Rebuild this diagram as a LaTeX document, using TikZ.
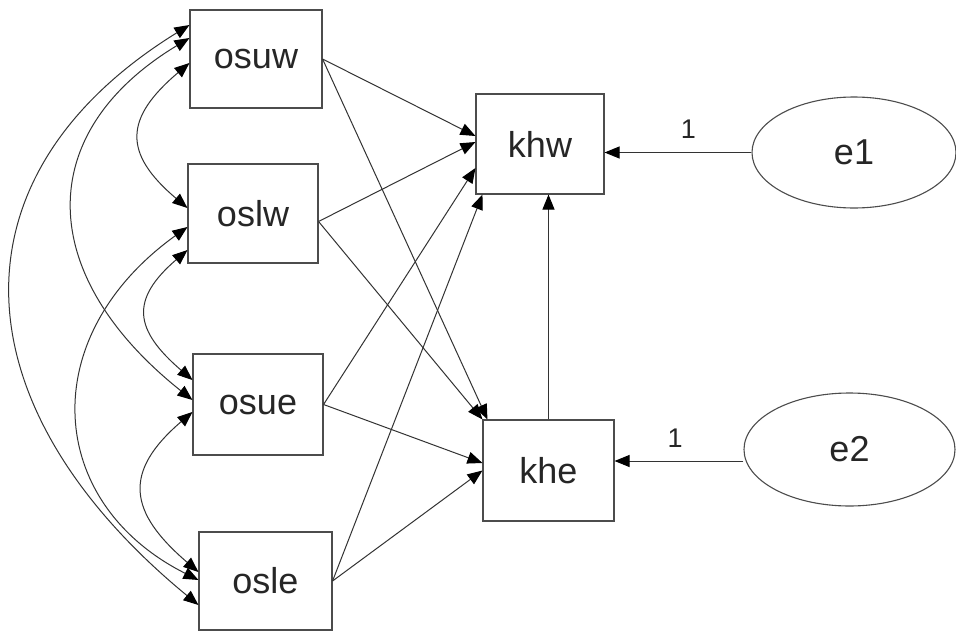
\documentclass[tikz,border=0pt]{standalone}
\usepackage{fontspec}
\setmainfont{Liberation Sans}
\usetikzlibrary{arrows.meta,shapes.geometric,calc}
\begin{document}
\begin{tikzpicture}[x=1pt,y=-1pt,
  box/.style={draw=black!70, line width=1.1pt, minimum width=130pt, minimum height=99pt, inner sep=0pt, font=\fontsize{36}{40}\selectfont, text=black!85},
  err/.style={ellipse, draw=black!70, line width=1.1pt, inner sep=0pt, font=\fontsize{36}{40}\selectfont, text=black!85},
  pth/.style={draw=black!80, line width=1pt, -{Triangle[length=15pt,width=12pt,color=black]}},
  cov/.style={draw=black!80, line width=1pt, {Triangle[length=15pt,width=12pt,color=black]}-{Triangle[length=15pt,width=12pt,color=black]}},
  lab/.style={font=\fontsize{27}{30}\selectfont, text=black!85}]
\useasboundingbox (0,0) rectangle (956,632);
\fill[white] (0,0) rectangle (956,632);
\node[box, minimum width=132pt, minimum height=98pt] (osuw) at (256,59) {osuw};
\node[box, minimum width=130pt, minimum height=99pt] (oslw) at (253,213.5) {oslw};
\node[box, minimum width=130pt, minimum height=101pt] (osue) at (258,404.5) {osue};
\node[box, minimum width=133pt, minimum height=98pt] (osle) at (265.5,581) {osle};
\node[box, minimum width=128pt, minimum height=100pt] (khw) at (540,144) {khw};
\node[box, minimum width=131pt, minimum height=101pt] (khe) at (548.5,470.5) {khe};
\node[err, minimum width=204pt, minimum height=111pt] (e1) at (854,152.5) {e1};
\node[err, minimum width=211pt, minimum height=113pt] (e2) at (849.5,449.5) {e2};
% covariances
\draw[cov] ([yshift=-4pt]osuw.west) .. controls +(-65,55) and +(-65,-55) .. ([yshift=5.5pt]oslw.west);
\draw[cov] ([yshift=-36.5pt]oslw.west) .. controls +(-58,50) and +(-58,-50) .. ([yshift=24.5pt]osue.west);
\draw[cov] ([yshift=-7.5pt]osue.west) .. controls +(-70,60) and +(-70,-60) .. ([yshift=9pt]osle.west);
\draw[cov] ([yshift=21pt]osuw.west) .. controls +(-157,95) and +(-157,-125) .. ([yshift=4.5pt]osue.west);
\draw[cov] ([yshift=-13.5pt]oslw.west) .. controls +(-153,110) and +(-153,-77) .. ([yshift=1pt]osle.west);
\draw[cov] ([yshift=34pt]osuw.west) .. controls +(-243,150) and +(-243,-200) .. ([yshift=-24pt]osle.west);
% regressions
\draw[pth] (osuw.east) -- ([yshift=8pt]khw.west);
\draw[pth] ([yshift=-8pt]oslw.east) -- ([yshift=2pt]khw.west);
\draw[pth] (osue.east) -- ([yshift=-24pt]khw.west);
\draw[pth] (osle.east) -- ([xshift=7pt]khw.south west);
\draw[pth] (osuw.east) -- ([xshift=5pt]khe.north west);
\draw[pth] ([yshift=-8pt]oslw.east) -- (khe.north west);
\draw[pth] (osue.east) -- ([yshift=7.5pt]khe.west);
\draw[pth] (osle.east) -- (khe.west);
\draw[pth] (khe.north) -- (khe.north |- khw.south);
\draw[pth] (e1.west) -- (e1.west -| khw.east) node[lab, pos=0.43, yshift=23pt] (l1) {1};
\draw[pth] ([yshift=-11.5pt]e2.west) -- ([yshift=-11.5pt]e2.west -| khe.east) node[lab, pos=0.53, yshift=23pt] (l2) {1};
\end{tikzpicture}
\end{document}
